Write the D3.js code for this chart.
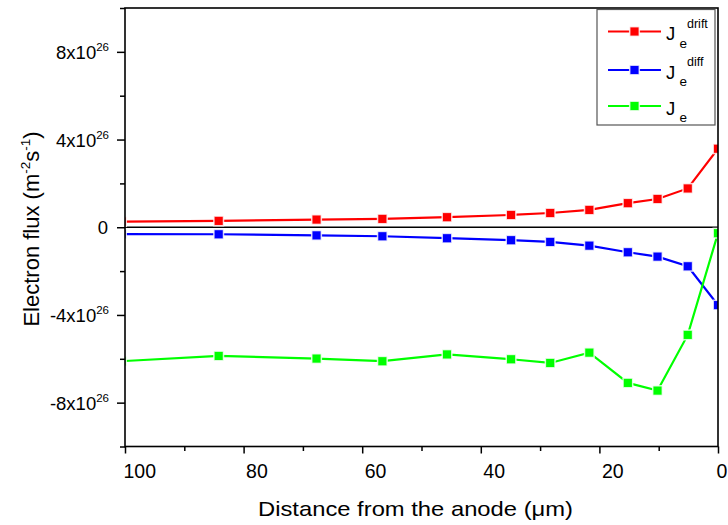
<!DOCTYPE html>
<html>
<head>
<meta charset="utf-8">
<script src="https://cdn.jsdelivr.net/npm/d3@7"></script>
<style>
  body { margin: 0; background: #fff; }
  svg { display: block; font-family: "Liberation Sans", Arial, sans-serif; }
</style>
</head>
<body>
<div id="chart"></div>
<script>
// distance from anode (um) and fluxes (units of 1e26 m^-2 s^-1)
var distance = [100.6, 84.2, 67.7, 56.6, 45.7, 34.9, 28.3, 21.7, 15.2, 10.2, 5.1, 0];
var jDrift = [0.26, 0.29, 0.35, 0.38, 0.46, 0.56, 0.65, 0.79, 1.10, 1.29, 1.77, 3.58];
var jDiff = [-0.31, -0.32, -0.37, -0.41, -0.50, -0.59, -0.67, -0.84, -1.14, -1.34, -1.78, -3.55];
var jTotal = [-6.11, -5.87, -5.99, -6.11, -5.80, -6.02, -6.19, -5.72, -7.10, -7.45, -4.91, -0.27];

var xTicks = [100, 80, 60, 40, 20, 0];
var xMinor = [90, 70, 50, 30, 10];
var yTicks = [8, 4, 0, -4, -8];
var yMinor = [10, 6, 2, -2, -6, -10];

var seriesNames = ["drift", "diff", ""];
var seriesColors = ["#ff0000", "#0000ff", "#00ff00"];
var seriesValues = [jDrift, jDiff, jTotal];

var W = 728, H = 525;
// plot box (note: "top" is reserved on window, so use m*)
var mLeft = 125, mRight = 718, mTop = 8, mBottom = 446.5;

var svg = d3.select("#chart").append("svg")
    .attr("width", W)
    .attr("height", H);

var x = d3.scaleLinear().domain([100, 0]).range([mLeft, mRight]);
var y = d3.scaleLinear().domain([10, -10]).range([mTop, mBottom]);

svg.append("defs").append("clipPath")
    .attr("id", "plotclip")
    .append("rect")
    .attr("x", mLeft).attr("y", mTop)
    .attr("width", mRight - mLeft).attr("height", mBottom - mTop);

// zero line
svg.append("line")
    .attr("x1", mLeft).attr("x2", mRight)
    .attr("y1", y(0)).attr("y2", y(0))
    .attr("stroke", "#000")
    .attr("stroke-width", 1.5);

// series
var plot = svg.append("g").attr("clip-path", "url(#plotclip)");
var line = d3.line()
    .x(function(d) { return x(d[0]); })
    .y(function(d) { return y(d[1]); });

seriesValues.forEach(function(vals, s) {
    var pts = distance.map(function(d, i) { return [d, vals[i]]; });
    plot.append("path")
        .datum(pts)
        .attr("d", line)
        .attr("fill", "none")
        .attr("stroke", seriesColors[s])
        .attr("stroke-width", 2.2);
    plot.selectAll(".m" + s)
        .data(pts)
        .enter()
        .append("rect")
        .attr("x", function(d) { return x(d[0]) - 4.8; })
        .attr("y", function(d) { return y(d[1]) - 4.8; })
        .attr("width", 9.6)
        .attr("height", 9.6)
        .attr("fill", seriesColors[s])
        .attr("stroke", "#fff")
        .attr("stroke-opacity", 0.8)
        .attr("stroke-width", 1.5);
});

// frame
svg.append("rect")
    .attr("x", mLeft).attr("y", mTop)
    .attr("width", mRight - mLeft).attr("height", mBottom - mTop)
    .attr("fill", "none")
    .attr("stroke", "#000")
    .attr("stroke-width", 1.6);

// x axis
var xAxis = svg.append("g")
    .attr("transform", "translate(0," + mBottom + ")")
    .call(d3.axisBottom(x).tickValues(xTicks).tickSize(7).tickFormat(d3.format("d")));
xAxis.select(".domain").remove();
xAxis.selectAll(".tick line").attr("stroke", "#000").attr("stroke-width", 1.5);
xAxis.selectAll(".tick text")
    .attr("font-family", "Liberation Sans, Arial, sans-serif")
    .attr("font-size", 19.5)
    .attr("fill", "#000")
    .attr("text-anchor", "start")
    .attr("x", function(d) { return (d === 100 || d === 0) ? -2 : 2; })
    .attr("dy", 0)
    .attr("y", 31.5);
svg.append("g")
    .attr("transform", "translate(0," + mBottom + ")")
    .call(d3.axisBottom(x).tickValues(xMinor).tickSize(4.5).tickFormat(""))
    .call(function(g) {
        g.select(".domain").remove();
        g.selectAll(".tick line").attr("stroke", "#000").attr("stroke-width", 1.5);
    });

// y axis
var yAxis = svg.append("g")
    .attr("transform", "translate(" + mLeft + ",0)")
    .call(d3.axisLeft(y).tickValues(yTicks).tickSize(8).tickFormat(""));
yAxis.select(".domain").remove();
yAxis.selectAll(".tick line").attr("stroke", "#000").attr("stroke-width", 1.5);
svg.append("g")
    .attr("transform", "translate(" + mLeft + ",0)")
    .call(d3.axisLeft(y).tickValues(yMinor).tickSize(5).tickFormat(""))
    .call(function(g) {
        g.select(".domain").remove();
        g.selectAll(".tick line").attr("stroke", "#000").attr("stroke-width", 1.5);
    });

var yLabels = svg.append("g").selectAll("text")
    .data(yTicks)
    .enter()
    .append("text")
    .attr("x", 109)
    .attr("y", function(d) { return y(d) + 7; })
    .attr("text-anchor", "end")
    .attr("font-size", 18.5)
    .attr("fill", "#000");
yLabels.each(function(d) {
    var t = d3.select(this);
    if (d === 0) {
        t.text("0").attr("x", 108);
        return;
    }
    t.append("tspan").text(d + "x10");
    t.append("tspan").attr("font-size", 11.5).attr("dy", -8).text("26");
});

// axis titles
svg.append("text")
    .attr("x", 258)
    .attr("y", 516)
    .attr("textLength", 315)
    .attr("lengthAdjust", "spacingAndGlyphs")
    .attr("font-size", 21)
    .attr("fill", "#000")
    .text("Distance from the anode (\u03bcm)");

var yt = svg.append("text")
    .attr("transform", "translate(38.5,229) rotate(-90)")
    .attr("text-anchor", "middle")
    .attr("font-size", 22)
    .attr("fill", "#000");
yt.append("tspan").text("Electron flux (m");
yt.append("tspan").attr("font-size", 13.5).attr("dy", -8.5).text("-2");
yt.append("tspan").attr("dy", 8.5).text("s");
yt.append("tspan").attr("font-size", 13.5).attr("dy", -8.5).text("-1");
yt.append("tspan").attr("dy", 8.5).text(")");

// legend
var lg = svg.append("g");
lg.append("rect")
    .attr("x", 597).attr("y", 9.5)
    .attr("width", 118).attr("height", 115.5)
    .attr("fill", "#fff")
    .attr("stroke", "#555")
    .attr("stroke-width", 1.2);

var rowY = [31.5, 70, 106];
seriesNames.forEach(function(name, s) {
    var ry = rowY[s];
    lg.append("line")
        .attr("x1", 608).attr("x2", 661)
        .attr("y1", ry).attr("y2", ry)
        .attr("stroke", seriesColors[s])
        .attr("stroke-width", 2);
    lg.append("rect")
        .attr("x", 634.5 - 4.8).attr("y", ry - 4.8)
        .attr("width", 9.6).attr("height", 9.6)
        .attr("fill", seriesColors[s])
        .attr("stroke", "#fff")
        .attr("stroke-opacity", 0.8)
        .attr("stroke-width", 1.5);
    lg.append("text")
        .attr("x", 666)
        .attr("y", ry + 8.5)
        .attr("font-size", 18.5)
        .attr("fill", "#000")
        .text("J");
    lg.append("text")
        .attr("x", 679.5)
        .attr("y", ry + 16)
        .attr("font-size", 13.5)
        .attr("fill", "#000")
        .text("e");
    if (name) {
        lg.append("text")
            .attr("x", 687)
            .attr("y", ry - 4)
            .attr("font-size", 12.5)
            .attr("fill", "#000")
            .text(name);
    }
});
</script>
</body>
</html>
